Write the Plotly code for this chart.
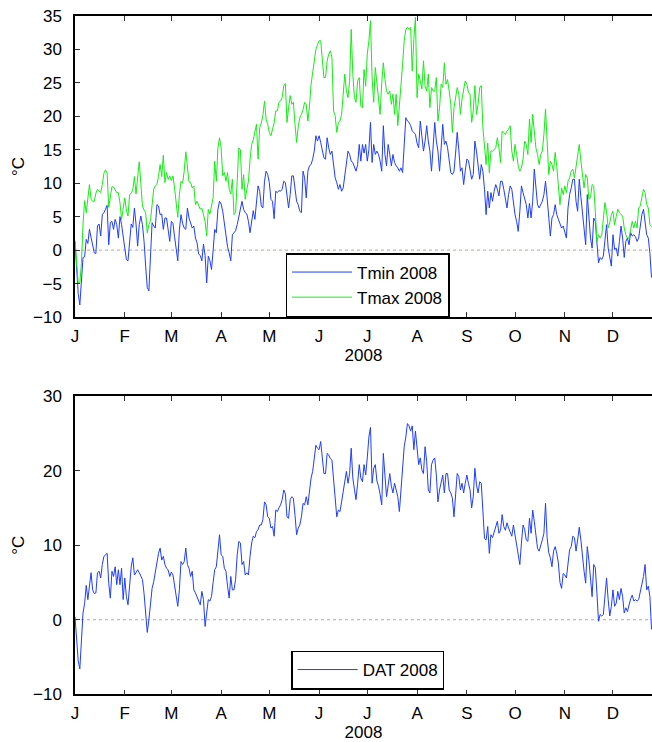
import pandas as pd
import plotly.graph_objects as go

# Daily minimum temperature, 2008 (°C), Jan 1 .. Dec 25
tmin_2008 = [
    # Jan
    1.3, -3.5, -6.5, -8.2, -4.2, -1.1, -1.0, 1.6, 1.0, 3.1,
    1.9, 0.6, -0.4, -0.5, 3.6, 3.9, 2.1, 5.3, 5.6, 6.1,
    6.7, 0.8, 4.1, 4.3, 3.1, 4.6, 3.8, 1.8, 5.0, 3.8, 1.8,
    # Feb
    -0.2, -1.4, -1.6, 1.8, 3.9, 3.4, 6.3, 3.9, 0.6, 3.8,
    5.1, 3.8, 1.3, -2.4, -5.6, -6.1, -1.5, 4.1, 3.6, 3.3,
    6.8, 6.6, 5.3, 5.4, 3.1, 4.8, 4.8, 3.3, 1.3,
    # Mar
    4.3, 4.0, 2.0, 0.3, -1.6, 3.0, 5.3, 4.0, 3.3, 3.1,
    6.3, 4.8, 4.1, 3.3, 3.6, 1.8, 1.1, -0.6, -0.8, -1.6,
    0.9, -0.8, -4.9, -0.9, -1.6, -2.9, -0.1, 3.1, 2.6, 6.1, 7.3,
    # Apr
    6.9, 5.8, 3.8, 1.8, 0.5, -0.4, -1.6, 2.3, 2.6, 2.9,
    3.8, 5.1, 6.1, 7.3, 6.1, 5.6, 5.4, 4.3, 2.6, 4.3,
    5.9, 4.6, 7.3, 9.6, 8.8, 6.6, 6.3, 10.3, 11.8, 11.3,
    # May
    10.1, 7.6, 7.3, 4.7, 8.8, 8.6, 8.9, 8.8, 9.1, 10.3,
    10.1, 8.3, 6.3, 8.3, 11.1, 11.1, 9.1, 7.3, 6.8, 5.8,
    5.6, 11.8, 10.8, 7.8, 11.8, 12.6, 12.8, 13.6, 14.8, 17.1, 16.3,
    # Jun
    17.1, 16.1, 14.8, 13.8, 13.6, 16.8, 15.3, 14.3, 14.8, 12.8,
    10.8, 10.1, 9.1, 9.8, 8.8, 9.3, 11.3, 12.5, 14.8, 14.3,
    13.3, 13.1, 12.5, 11.8, 12.8, 15.8, 13.3, 15.8, 14.5, 15.8,
    # Jul
    13.3, 15.0, 19.1, 13.1, 15.8, 14.3, 14.8, 14.3, 13.3, 11.8,
    18.6, 14.3, 12.6, 15.8, 14.3, 12.6, 14.3, 13.1, 12.6, 12.3,
    11.8, 12.3, 11.6, 16.3, 19.8, 19.3, 19.1, 18.6, 17.8, 17.6, 17.3,
    # Aug
    16.0, 15.3, 19.3, 17.3, 14.8, 16.3, 18.6, 16.3, 14.8, 11.8,
    16.5, 19.1, 16.3, 14.8, 11.8, 15.8, 18.8, 15.8, 16.3, 15.3,
    13.8, 11.6, 11.3, 11.8, 14.5, 17.6, 15.0, 11.8, 12.3, 9.8, 11.8,
    # Sep
    13.6, 13.4, 11.8, 10.6, 11.3, 16.3, 14.8, 12.8, 10.6, 12.8,
    11.8, 9.1, 5.3, 8.8, 6.3, 8.6, 7.3, 8.8, 9.8, 9.1,
    8.1, 10.3, 10.3, 9.1, 7.3, 6.3, 8.3, 9.6, 9.1, 6.8,
    # Oct
    5.3, 4.3, 2.8, 5.8, 9.6, 8.6, 7.8, 6.8, 4.8, 7.0,
    4.8, 7.3, 12.1, 9.8, 6.8, 6.3, 6.8, 7.3, 8.3, 10.3,
    7.8, 4.8, 2.1, 4.8, 5.3, 6.8, 5.3, 4.6, 4.0, 3.3, 3.6,
    # Nov
    2.8, 1.8, 6.3, 8.3, 9.3, 10.6, 10.6, 7.3, 5.8, 10.6,
    8.0, 5.3, 3.3, 0.8, 8.3, 5.1, 1.8, 0.3, 4.8, 4.3,
    0.3, -1.9, -1.1, -1.4, -0.9, 1.3, 3.8, 0.3, -0.9, -2.4,
    # Dec
    2.3, 0.1, 0.3, -0.9, 1.3, 3.6, 1.8, -1.1, 1.3, 1.8,
    0.8, 2.6, 2.1, 2.3, 2.0, 1.3, 1.8, 3.8, 5.3, 6.1,
    3.8, 2.3, 1.8, -0.5, -4.1,
]

# Daily maximum temperature, 2008 (°C)
tmax_2008 = [
    # Jan
    1.4, -1.5, -4.9, -4.9, -2.0, 3.9, 7.4, 5.6, 7.5, 9.8,
    7.6, 7.3, 7.3, 8.5, 9.1, 8.8, 8.6, 9.8, 11.5, 12.0,
    11.5, 6.4, 7.8, 9.5, 9.4, 8.9, 8.6, 8.6, 7.1, 4.6, 6.5,
    # Feb
    7.8, 6.0, 5.1, 8.3, 8.5, 9.0, 11.0, 8.4, 11.0, 13.2,
    10.0, 6.6, 6.0, 5.6, 2.6, 3.8, 4.4, 7.0, 9.1, 9.6,
    9.8, 11.0, 12.8, 11.0, 14.2, 10.1, 11.6, 10.6, 11.1,
    # Mar
    10.4, 11.1, 9.3, 6.5, 4.9, 8.3, 10.3, 10.0, 11.8, 14.7,
    12.8, 10.2, 10.1, 9.3, 9.6, 6.8, 7.3, 6.8, 6.1, 6.3,
    5.3, 4.3, 2.1, 6.1, 5.4, 6.8, 7.8, 13.3, 10.3, 15.3, 16.8,
    # Apr
    15.3, 11.1, 11.6, 10.3, 11.6, 9.1, 8.4, 10.6, 5.3, 5.6,
    10.3, 15.3, 15.0, 9.1, 11.3, 7.6, 9.1, 10.3, 13.5, 15.8,
    16.5, 17.5, 18.8, 13.6, 18.3, 19.0, 20.1, 22.3, 19.6, 18.8,
    # May
    17.6, 17.1, 18.3, 19.0, 20.8, 20.8, 22.1, 22.3, 22.8, 24.6,
    24.9, 19.1, 21.3, 23.1, 21.8, 22.1, 18.8, 16.1, 18.5, 19.8,
    20.3, 21.0, 22.1, 21.8, 19.3, 21.5, 24.8, 26.8, 28.5, 30.0, 30.7,
    # Jun
    31.3, 31.3, 28.8, 25.8, 25.8, 28.3, 29.3, 29.8, 28.8, 20.8,
    20.1, 17.6, 19.1, 19.3, 20.3, 23.3, 26.3, 23.8, 22.8, 25.3,
    33.0, 26.3, 22.8, 22.1, 25.3, 25.8, 21.5, 21.3, 27.0, 24.5,
    # Jul
    29.3, 31.3, 34.3, 25.8, 22.1, 27.3, 24.8, 23.3, 20.3, 25.0,
    28.0, 25.5, 23.8, 23.3, 23.8, 21.8, 23.3, 20.3, 23.3, 18.6,
    21.3, 24.1, 27.8, 31.3, 33.0, 33.3, 33.0, 33.3, 26.8, 31.5, 34.8,
    # Aug
    22.8, 26.3, 25.3, 24.1, 28.3, 24.5, 23.8, 26.3, 21.3, 24.3,
    23.8, 23.8, 25.8, 19.3, 21.3, 24.8, 24.3, 28.0, 24.8, 25.5,
    23.8, 21.8, 17.6, 21.3, 22.8, 24.3, 23.3, 20.3, 22.6, 23.8, 25.3,
    # Sep
    24.8, 23.6, 23.3, 19.1, 20.8, 24.6, 20.3, 21.8, 24.3, 24.6,
    18.3, 15.3, 12.8, 16.0, 11.6, 14.8, 14.8, 15.0, 15.3, 16.8,
    15.3, 13.1, 17.8, 17.6, 17.3, 17.8, 18.1, 18.6, 14.8, 13.3,
    # Oct
    15.8, 14.3, 12.6, 11.8, 12.3, 13.6, 16.3, 15.8, 14.3, 19.6,
    16.1, 20.3, 17.3, 15.3, 14.3, 12.8, 14.3, 14.8, 17.3, 21.1,
    16.3, 11.3, 13.3, 12.8, 11.8, 14.6, 12.5, 9.0, 6.8, 9.3, 8.3,
    # Nov
    9.6, 8.6, 10.3, 10.8, 11.8, 12.1, 10.8, 12.3, 14.3, 15.8,
    13.3, 10.8, 9.3, 11.3, 10.8, 7.6, 7.8, 9.8, 9.6, 5.8,
    1.3, 2.3, 1.8, 2.3, 5.3, 7.1, 5.8, 3.3, 4.1, 5.3,
    # Dec
    5.8, 3.8, 5.0, 6.1, 5.6, 5.3, 5.1, 3.3, 2.3, 1.8,
    1.8, 3.1, 4.3, 3.3, 4.3, 3.3, 6.3, 6.6, 7.8, 9.1,
    8.6, 6.8, 6.3, 3.8, 3.5,
]

# Daily average temperature, 2008 (°C)
dat_2008 = [
    # Jan
    0.4, -3.0, -5.5, -6.6, -2.2, 0.9, 2.2, 4.6, 2.7, 4.5,
    6.3, 4.0, 3.5, 3.6, 6.3, 6.5, 5.6, 7.4, 8.5, 8.7,
    8.9, 4.9, 2.9, 6.5, 5.8, 7.1, 4.7, 6.7, 4.7, 6.9, 2.7,
    # Feb
    5.6, 3.1, 2.0, 4.5, 7.1, 8.3, 6.0, 6.3, 6.7, 6.3,
    5.8, 5.4, 3.5, 0.5, -1.7, 0.0, 1.8, 4.2, 5.1, 6.3,
    7.8, 8.9, 9.6, 8.0, 8.5, 7.4, 6.9, 6.7, 5.8,
    # Mar
    6.4, 6.0, 4.5, 3.1, 1.8, 4.0, 7.8, 7.4, 7.8, 9.6,
    7.4, 6.9, 5.8, 6.5, 4.0, 3.6, 3.1, 2.5, 2.0, 3.8,
    2.7, -0.9, 1.3, 2.7, 2.5, 3.1, 5.0, 6.7, 7.1, 8.9, 11.4,
    # Apr
    8.7, 8.5, 6.9, 6.5, 4.5, 2.9, 5.8, 4.0, 4.0, 5.4,
    8.7, 10.5, 10.3, 7.4, 7.8, 6.0, 6.3, 6.0, 8.5, 10.3,
    11.2, 11.0, 11.8, 12.1, 12.7, 12.7, 13.4, 15.8, 15.4, 13.8,
    # May
    13.6, 12.3, 12.5, 11.2, 14.7, 14.5, 15.0, 15.4, 16.1, 17.4,
    16.9, 13.8, 13.6, 16.1, 16.5, 16.3, 14.0, 11.4, 12.3, 12.7,
    13.8, 15.6, 15.4, 16.5, 15.4, 17.6, 19.0, 19.9, 21.4, 23.4, 23.0,
    # Jun
    22.8, 23.9, 21.8, 19.6, 19.6, 22.3, 22.1, 21.6, 21.4, 18.8,
    16.5, 13.8, 14.7, 14.5, 15.8, 17.4, 19.0, 19.9, 18.3, 19.6,
    23.0, 19.0, 17.5, 16.1, 18.3, 20.8, 19.0, 18.5, 20.8, 19.4,
    # Jul
    21.7, 24.5, 25.8, 18.3, 20.3, 20.8, 18.6, 17.9, 16.8, 15.4,
    22.3, 19.0, 16.5, 18.0, 19.6, 17.9, 17.0, 18.3, 17.4, 16.5,
    14.5, 17.4, 19.6, 23.2, 24.5, 26.3, 26.0, 25.3, 26.0, 22.8, 25.3,
    # Aug
    22.8, 20.8, 21.7, 20.1, 19.6, 23.2, 21.2, 17.4, 17.0, 20.8,
    21.4, 21.7, 19.4, 15.8, 17.4, 18.3, 19.4, 17.0, 19.6, 19.6,
    17.4, 17.0, 16.3, 13.8, 17.4, 19.6, 19.2, 17.4, 18.3, 17.0, 18.3,
    # Sep
    19.4, 18.3, 17.4, 15.0, 16.5, 20.3, 18.1, 17.0, 18.5, 18.3,
    15.2, 10.9, 10.7, 12.5, 8.9, 11.4, 11.0, 11.8, 12.3, 13.2,
    11.6, 12.0, 14.1, 12.5, 12.0, 13.0, 12.3, 11.8, 11.2, 12.7,
    # Oct
    11.4, 10.3, 8.7, 7.4, 10.3, 12.7, 12.1, 10.7, 10.5, 13.6,
    11.6, 14.7, 13.2, 11.0, 9.6, 9.2, 9.8, 10.7, 11.6, 15.6,
    11.0, 9.0, 8.3, 7.1, 9.2, 9.8, 8.9, 7.6, 5.0, 4.2, 6.2,
    # Nov
    6.0, 5.6, 7.8, 9.4, 9.8, 11.2, 11.0, 9.2, 10.7, 12.4,
    10.7, 8.0, 6.5, 4.9, 9.8, 8.0, 5.4, 3.1, 7.4, 7.0,
    3.6, -0.2, 0.7, 0.5, 0.7, 3.1, 5.6, 2.7, 0.5, 1.8,
    # Dec
    4.0, 1.8, 2.2, 3.8, 2.7, 4.2, 3.1, 0.9, 1.6, 1.1,
    2.2, 2.8, 3.3, 2.5, 2.7, 2.5, 2.7, 3.8, 4.5, 5.8,
    7.4, 4.0, 4.5, 3.1, -1.3,
]

month_starts = ["2008-%02d-01" % m for m in range(1, 13)]
month_labels = ["J", "F", "M", "A", "M", "J", "J", "A", "S", "O", "N", "D"]

dates = pd.date_range("2008-01-01", periods=len(tmin_2008), freq="D")
x_start = pd.Timestamp("2008-01-01")
x_end = x_start + pd.Timedelta(days=359.3)

BLUE = "#1f3dff"
GREEN = "#14ee14"
FONT = "Liberation Sans, Arial, Helvetica, sans-serif"
FS = 17

fig = go.Figure()
fig.add_trace(go.Scatter(x=dates, y=tmin_2008, mode="lines", name="Tmin 2008",
                         line=dict(color=BLUE, width=1), xaxis="x", yaxis="y",
                         legend="legend"))
fig.add_trace(go.Scatter(x=dates, y=tmax_2008, mode="lines", name="Tmax 2008",
                         line=dict(color=GREEN, width=1), xaxis="x", yaxis="y",
                         legend="legend"))
fig.add_trace(go.Scatter(x=dates, y=dat_2008, mode="lines", name="DAT 2008",
                         line=dict(color=BLUE, width=1), xaxis="x2", yaxis="y2",
                         legend="legend2"))

H = 742.0
PLOT_W = 577.0


def xaxis_style(anchor):
    return dict(
        anchor=anchor, domain=[0, 1], range=[x_start, x_end],
        tickmode="array", tickvals=month_starts, ticktext=month_labels,
        ticks="inside", ticklen=5, tickwidth=1, tickcolor="#333333",
        showline=True, linecolor="black", linewidth=1.5, mirror="ticks",
        showgrid=False, zeroline=False, automargin=False,
        tickfont=dict(family=FONT, size=FS, color="black"),
        ticklabelstandoff=3,
        title=dict(text="2008", font=dict(family=FONT, size=FS, color="black"),
                   standoff=0),
    )


def yaxis_style(anchor, dom, rng, dtick):
    return dict(
        anchor=anchor, domain=dom, range=rng, dtick=dtick, tick0=0,
        ticks="inside", ticklen=5, tickwidth=1, tickcolor="#333333",
        showline=True, linecolor="black", linewidth=1.5, mirror=False,
        showgrid=False, zeroline=False, automargin=False,
        tickfont=dict(family=FONT, size=FS, color="black"),
        ticklabelstandoff=8,
        title=dict(text="°C", font=dict(family=FONT, size=FS, color="black"),
                   standoff=4),
    )


def legend_style(cx, cy):
    return dict(
        x=(cx - 75) / PLOT_W, y=1 - cy / H, xanchor="center", yanchor="middle",
        bordercolor="black", borderwidth=1.5, bgcolor="white", itemwidth=60,
        font=dict(family=FONT, size=FS, color="black"),
    )


fig.update_layout(
    width=652, height=742,
    margin=dict(l=75, r=0, t=0, b=0),
    paper_bgcolor="white", plot_bgcolor="white",
    font=dict(family=FONT, size=FS, color="black"),
    xaxis=xaxis_style("y"),
    yaxis=yaxis_style("x", [1 - 317 / H, 1 - 16 / H], [-10, 35], 5),
    xaxis2=xaxis_style("y2"),
    yaxis2=yaxis_style("x2", [1 - 694.3 / H, 1 - 396 / H], [-10, 30], 10),
    legend=legend_style(367.5, 285.0),
    legend2=legend_style(367.7, 670.0),
    showlegend=True,
)

# dotted reference line at 0 °C in both panels
for xr, yr in (("x domain", "y"), ("x2 domain", "y2")):
    fig.add_shape(type="line", xref=xr, yref=yr, x0=0, x1=1, y0=0, y1=0,
                  line=dict(color="#b4a89c", width=1, dash="dot"), layer="below")

fig.write_html("out.html")
